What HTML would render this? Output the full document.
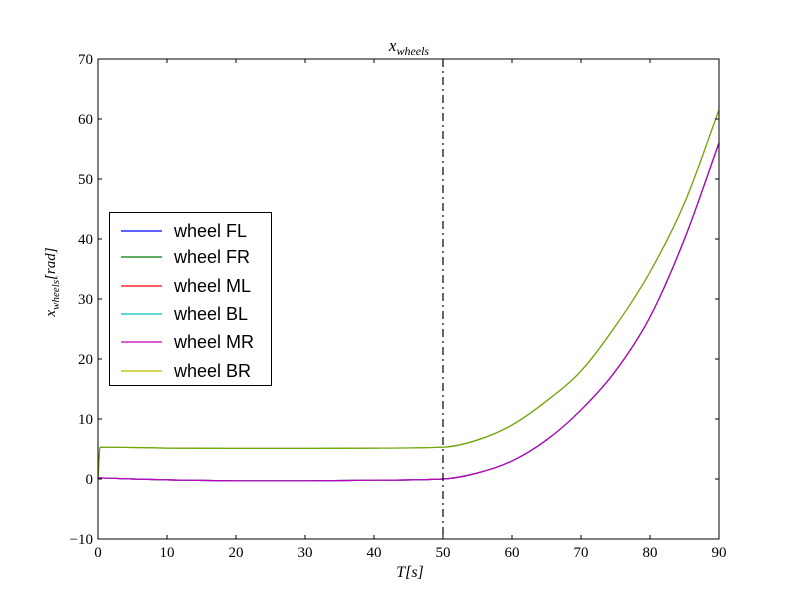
<!DOCTYPE html>
<html><head><meta charset="utf-8"><style>body{margin:0;background:#fff}svg{display:block}text{font-family:"Liberation Serif",serif}</style></head>
<body>
<svg id="c" width="800" height="600"></svg>
<script>
const tLower=[0,5,10,20,30,40,50,55,60,65,70,75,80,85,90];
const vLower=[0.2,0,-0.15,-0.3,-0.3,-0.2,0,1,3,6.5,11.5,18,27,40,56];
const tUpper=[0,0.3,5,10,20,30,40,50,55,60,65,70,75,80,85,90];
const vUpper=[0,5.3,5.25,5.15,5.1,5.1,5.15,5.3,6.5,9,13,18,25.5,34.5,46,61.5];
const seriesNames=["wheel FL","wheel FR","wheel ML","wheel BL","wheel MR","wheel BR"];
const seriesColors=["#0000ff","#008000","#ff0000","#00bfbf","#bf00bf","#bfbf00"];
const seriesGroup=["lower","upper","lower","lower","lower","upper"];
const xTicks=[0,10,20,30,40,50,60,70,80,90];
const yTicks=[-10,0,10,20,30,40,50,60,70];
const vline=50;
const L=98,R=719,T=59,B=539;
const xs=v=>L+(v-0)/90*(R-L), ys=v=>B-(v+10)/80*(B-T);
const svg=document.getElementById('c');const NS='http://www.w3.org/2000/svg';
function mk(tag,at,parent){const e=document.createElementNS(NS,tag);for(const k in at)e.setAttribute(k,at[k]);(parent||svg).appendChild(e);return e;}
function monoPath(tx,vy){
  const n=tx.length,x=tx,y=vy,dl=[],m=new Array(n);
  for(let i=0;i<n-1;i++)dl.push((y[i+1]-y[i])/(x[i+1]-x[i]));
  m[0]=dl[0];m[n-1]=dl[n-2];
  for(let i=1;i<n-1;i++){m[i]=(dl[i-1]*dl[i]<=0)?0:(dl[i-1]+dl[i])/2;}
  for(let i=0;i<n-1;i++){if(dl[i]===0){m[i]=0;m[i+1]=0;continue;}
    const a=m[i]/dl[i],b=m[i+1]/dl[i],s=a*a+b*b;if(s>9){const t=3/Math.sqrt(s);m[i]=t*a*dl[i];m[i+1]=t*b*dl[i];}}
  let d='M'+xs(x[0])+','+ys(y[0]);
  for(let i=0;i<n-1;i++){const h=x[i+1]-x[i];
    d+=' C'+xs(x[i]+h/3)+','+ys(y[i]+m[i]*h/3)+' '+xs(x[i+1]-h/3)+','+ys(y[i+1]-m[i+1]*h/3)+' '+xs(x[i+1])+','+ys(y[i+1]);}
  return d;}
const order=[0,2,3,4,1,5];
order.forEach(i=>{const tx=seriesGroup[i]=="lower"?tLower:tUpper,vy=seriesGroup[i]=="lower"?vLower:vUpper;
const p=mk('path',{d:monoPath(tx,vy),fill:'none',stroke:seriesColors[i],'stroke-width':1.2,opacity:i==5?0.6:1});

});
const vl=mk('line',{x1:xs(vline),x2:xs(vline),y1:T,y2:B,stroke:'#000','stroke-width':1.2,'stroke-dasharray':'8,4,2,4'});


const fr=mk('rect',{x:L,y:T,width:R-L,height:B-T,fill:'none',stroke:'#000','stroke-width':1});


xTicks.forEach(v=>{const x=xs(v);mk('line',{x1:x,x2:x,y1:B,y2:B-4,stroke:'#000'});mk('line',{x1:x,x2:x,y1:T,y2:T+4,stroke:'#000'});
const t=mk('text',{x:x,y:B+18,'text-anchor':'middle','font-size':15});t.textContent=v;

});
yTicks.forEach(v=>{const y=ys(v);mk('line',{x1:L,x2:L+4,y1:y,y2:y,stroke:'#000'});mk('line',{x1:R,x2:R-4,y1:y,y2:y,stroke:'#000'});
const t=mk('text',{x:L-5,y:y+5,'text-anchor':'end','font-size':15});t.textContent=v<0?'\u221210':v;

});
</script>
<svg width="800" height="600" style="position:absolute;left:0;top:0">
<text x="409" y="51" text-anchor="middle" font-size="17" font-style="italic">x<tspan font-size="12" dy="4">wheels</tspan></text>
<text x="410" y="577" text-anchor="middle" font-size="16" font-style="italic">T[s]</text>
<text transform="translate(55,282) rotate(-90)" text-anchor="middle" font-size="15" font-style="italic">x<tspan font-size="11" dy="4">wheels</tspan><tspan dy="-4">[rad]</tspan></text>
<g>
<rect x="109.5" y="212.5" width="162" height="173" fill="#fff" stroke="#000"/>
<g font-size="18">
<line x1="121" x2="162" y1="231" y2="231" stroke="#0000ff" stroke-width="1.3"/><text x="174" y="237" style="font-family:'Liberation Sans',sans-serif">wheel FL</text>
<line x1="121" x2="162" y1="257" y2="257" stroke="#008000" stroke-width="1.3"/><text x="174" y="263" style="font-family:'Liberation Sans',sans-serif">wheel FR</text>
<line x1="121" x2="162" y1="286" y2="286" stroke="#ff0000" stroke-width="1.3"/><text x="174" y="292" style="font-family:'Liberation Sans',sans-serif">wheel ML</text>
<line x1="121" x2="162" y1="314" y2="314" stroke="#00bfbf" stroke-width="1.3"/><text x="174" y="320" style="font-family:'Liberation Sans',sans-serif">wheel BL</text>
<line x1="121" x2="162" y1="342" y2="342" stroke="#bf00bf" stroke-width="1.3"/><text x="174" y="348" style="font-family:'Liberation Sans',sans-serif">wheel MR</text>
<line x1="121" x2="162" y1="371" y2="371" stroke="#bfbf00" stroke-width="1.3"/><text x="174" y="377" style="font-family:'Liberation Sans',sans-serif">wheel BR</text>
</g></g>
</svg>
</body></html>
